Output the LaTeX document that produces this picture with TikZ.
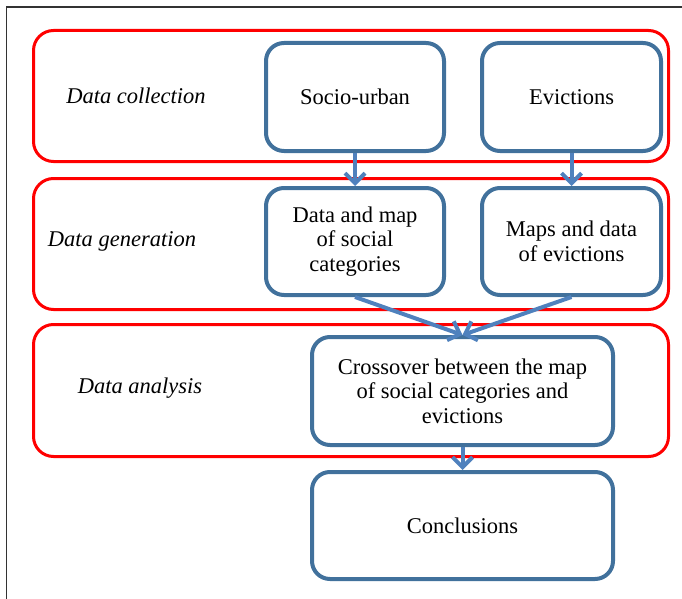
\documentclass[tikz,border=0pt]{standalone}
\usepackage{fontspec}
\setmainfont{Liberation Serif}
\usetikzlibrary{arrows.meta}
\definecolor{bluebox}{HTML}{41719C}
\definecolor{arrowblue}{HTML}{4F81BD}
\begin{document}
\begin{tikzpicture}[x=1pt,y=-1pt,
  group/.style={draw=red, line width=3pt, rounded corners=20pt, inner sep=0pt},
  stepbox/.style={draw=bluebox, line width=4pt, rounded corners=18pt, align=center,
    font=\fontsize{22.5}{24.5}\selectfont, inner sep=0pt},
  lab/.style={font=\fontsize{22.5}{24.5}\selectfont\itshape, inner sep=0pt},
  conn/.style={draw=arrowblue, line width=4pt, -{Straight Barb[length=10pt,width=20pt]}}]
\useasboundingbox (0,0) rectangle (682,599);
\draw[line width=1.6pt, draw=black!80] (6.5,599) -- (6.5,7) -- (682,7);
% groups
\node[group, minimum width=635pt, minimum height=131pt] (g1) at (351,96) {};
\node[group, minimum width=635pt, minimum height=131pt] (g2) at (351,244) {};
\node[group, minimum width=635pt, minimum height=132pt] (g3) at (351,390.5) {};
\node[lab] (l1) at (136,96) {Data collection};
\node[lab] (l2) at (122,241) {Data generation};
\node[lab] (l3) at (140,388) {Data analysis};
% steps
\node[stepbox, minimum width=178pt, minimum height=108pt] (su) at (355,97) {Socio-urban};
\node[stepbox, minimum width=179pt, minimum height=108pt] (ev) at (571.5,97) {Evictions};
\node[stepbox, minimum width=178pt, minimum height=107pt] (dm) at (355,241.5) {Data and map\\of social\\categories};
\node[stepbox, minimum width=179pt, minimum height=107pt] (md) at (571.5,241.5) {Maps and data\\of evictions};
\node[stepbox, minimum width=301pt, minimum height=108pt] (cr) at (462.5,391) {Crossover between the map\\of social categories and\\evictions};
\node[stepbox, minimum width=301pt, minimum height=107pt] (co) at (462.5,525.5) {Conclusions};
% connectors
\draw[conn] (su.south) -- (dm.north);
\draw[conn] (ev.south) -- (md.north);
\draw[conn] (dm.south) -- (cr.north);
\draw[conn] (md.south) -- (cr.north);
\draw[conn] (cr.south) -- (co.north);
\end{tikzpicture}
\end{document}
